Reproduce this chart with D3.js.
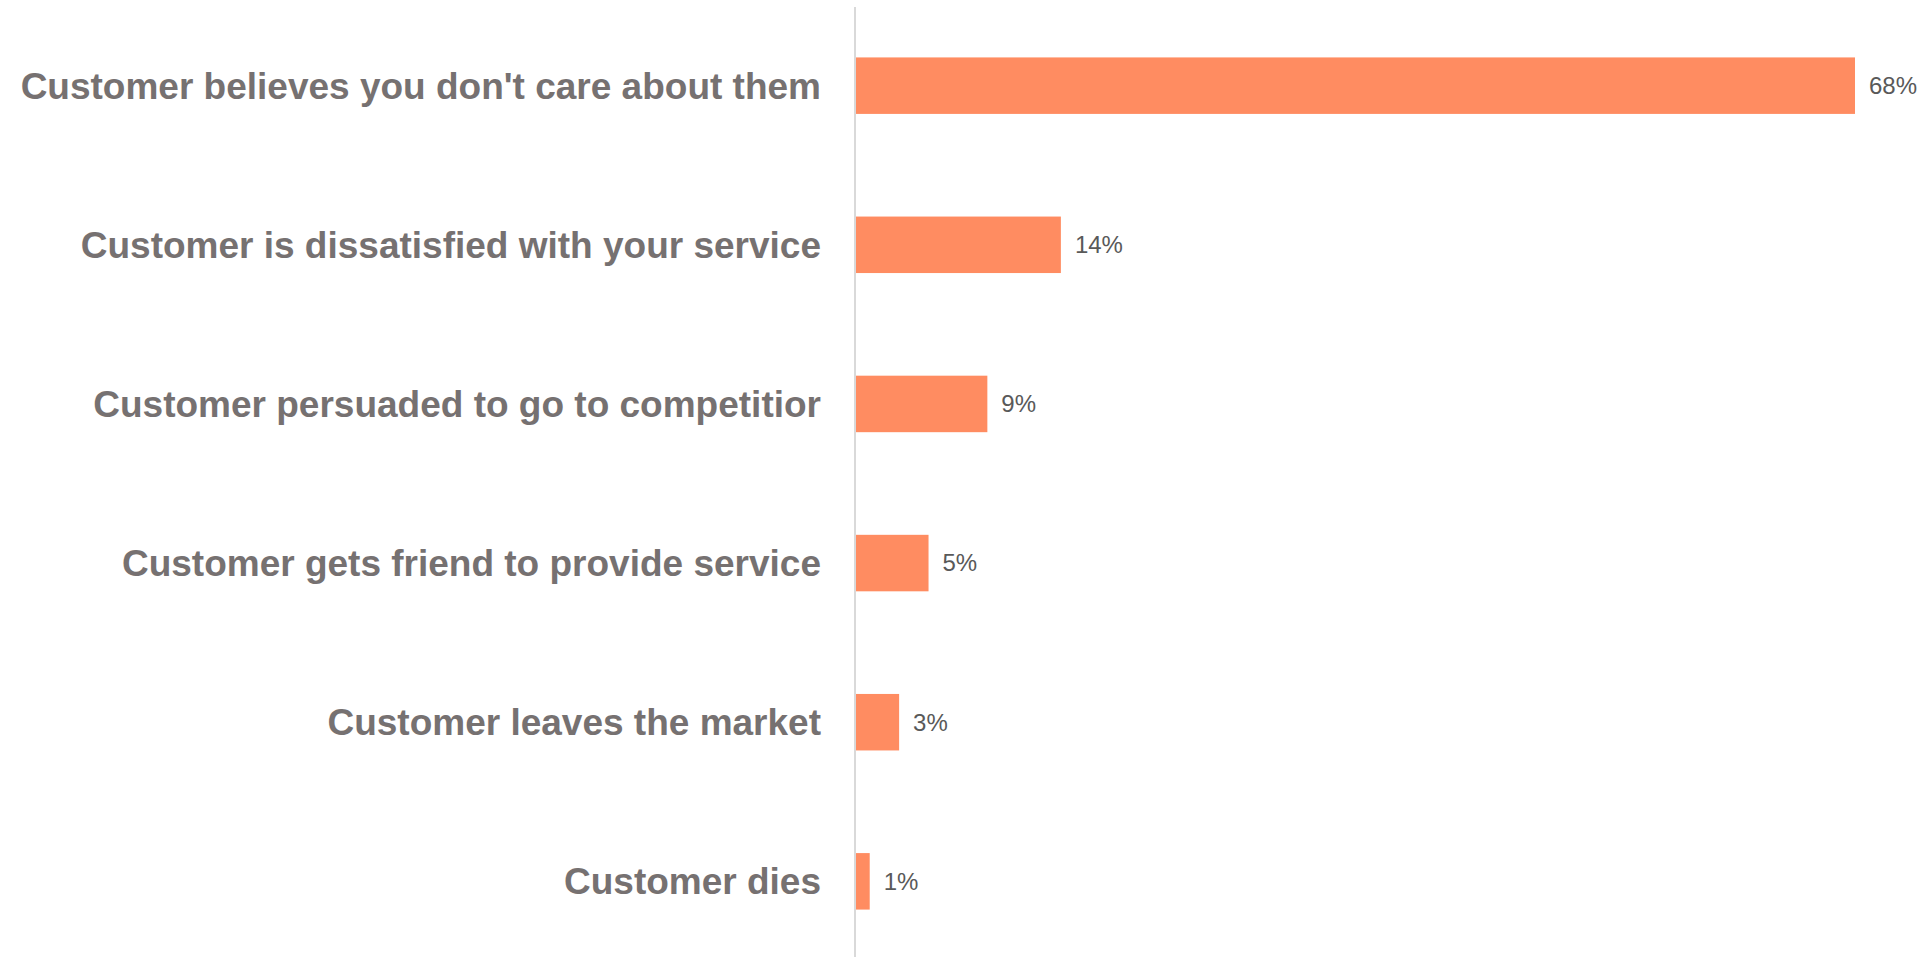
<!DOCTYPE html>
<html lang="en">
<head>
    <meta charset="utf-8">
    <title>Why customers leave</title>
    <script src="https://d3js.org/d3.v7.min.js"></script>
</head>
<style type="text/css">
    body{ margin: 0; background: #fff; }
    svg text.cat{
        fill: #767171;
        font: bold 37px "Liberation Sans", Arial, sans-serif;
        text-anchor: end;
    }
    svg text.val{
        fill: #595959;
        font: 24px "Liberation Sans", Arial, sans-serif;
    }
</style>
<body>
<script>
    // categories and values
    var categories = [
        "Customer believes you don't care about them",
        "Customer is dissatisfied with your service",
        "Customer persuaded to go to competitior",
        "Customer gets friend to provide service",
        "Customer leaves the market",
        "Customer dies"
    ];
    var values = [68, 14, 9, 5, 3, 1];
    var valueLabels = ["68%", "14%", "9%", "5%", "3%", "1%"];

    var width = 1926, height = 957;
    var axisX = 855;

    var svg = d3.select("body").append("svg")
        .attr("width", width)
        .attr("height", height);

    // x: percent -> pixels, 68% ends at about 1855
    var x = d3.scaleLinear().domain([0, 68]).range([axisX, 1855]);

    // y: one band per category
    var y = d3.scaleBand()
        .domain(categories)
        .range([6.5, 960.5])
        .paddingInner(0.645)
        .paddingOuter(0.32);

    var rows = svg.selectAll("g.row")
        .data(categories)
        .enter().append("g")
        .attr("class", "row");

    rows.append("rect")
        .attr("x", x(0))
        .attr("y", function(d){ return y(d); })
        .attr("width", function(d, i){ return x(values[i]) - x(0); })
        .attr("height", y.bandwidth())
        .attr("fill", "#ff8c61");

    rows.append("text")
        .attr("class", "cat")
        .attr("x", 821)
        .attr("y", function(d){ return y(d) + y.bandwidth() / 2; })
        .attr("dy", ".35em")
        .text(function(d){ return d; });

    rows.append("text")
        .attr("class", "val")
        .attr("x", function(d, i){ return x(values[i]) + 14; })
        .attr("y", function(d){ return y(d) + y.bandwidth() / 2; })
        .attr("dy", ".35em")
        .text(function(d, i){ return valueLabels[i]; });

    // vertical category axis line
    svg.append("line")
        .attr("x1", axisX).attr("x2", axisX)
        .attr("y1", 7).attr("y2", height)
        .attr("stroke", "#d9d9d9")
        .attr("stroke-width", 2);
</script>
</body>
</html>
